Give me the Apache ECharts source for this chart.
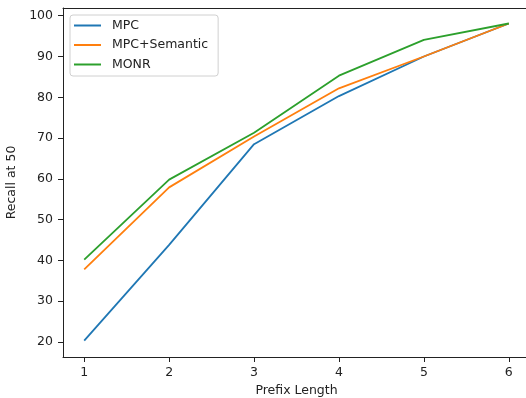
<!DOCTYPE html>
<html>
<head>
<meta charset="utf-8">
<script src="https://cdn.jsdelivr.net/npm/echarts@6/dist/echarts.min.js"></script>
<style>
  html, body { margin: 0; padding: 0; background: #fff; }
  #chart { width: 526px; height: 398px; }
</style>
</head>
<body>
<div id="chart"></div>
<script>
// prefix lengths on the x axis
const prefixLen = [1, 2, 3, 4, 5, 6]
const yTicks = [20, 30, 40, 50, 60, 70, 80, 90, 100]

const mpc = [20.3, 43.8, 68.5, 80.3, 90.0, 98.1]
const mpcSemantic = [37.8, 57.9, 70.4, 82.2, 90.0, 98.1]
const monr = [40.2, 59.8, 71.3, 85.3, 94.1, 98.1]

const font = 'DejaVu Sans'
const fs = 12.5
const ink = '#222'

function pairs(vals) {
  return prefixLen.map((x, i) => [x, vals[i]])
}

function lineSeries(name, vals, color) {
  return {
    name: name,
    type: 'line',
    data: pairs(vals),
    symbol: 'none',
    color: color,
    lineStyle: { width: 1.8, color: color },
    animation: false
  }
}

const chart = echarts.init(document.getElementById('chart'), null, { renderer: 'canvas' })

const option = {
  backgroundColor: '#fff',
  textStyle: { fontFamily: font },
  grid: {
    left: 63,
    top: 8,
    width: 467,
    height: 349,
    outerBoundsMode: 'none',
    containLabel: false,
    show: false
  },
  legend: {
    orient: 'vertical',
    left: 70,
    top: 15,
    padding: [4, 10, 5, 4],
    itemGap: 6.5,
    itemWidth: 27,
    itemHeight: 2,
    icon: 'rect',
    backgroundColor: 'rgba(255,255,255,0.8)',
    borderColor: '#d0d0d0',
    borderWidth: 1,
    borderRadius: 3,
    selectedMode: false,
    textStyle: { fontFamily: font, fontSize: fs, color: ink, padding: [0, 0, 0, 6] },
    data: ['MPC', 'MPC+Semantic', 'MONR']
  },
  xAxis: [
    {
      type: 'value',
      min: 0.75,
      max: 6.25,
      name: 'Prefix Length',
      nameLocation: 'middle',
      nameGap: 26,
      nameTextStyle: { fontFamily: font, fontSize: fs, color: ink },
      axisLine: { show: true, lineStyle: { color: ink, width: 1 } },
      axisTick: { show: true, length: 5, customValues: prefixLen, lineStyle: { color: ink } },
      axisLabel: { customValues: prefixLen, fontFamily: font, fontSize: fs, color: ink, margin: 9 },
      splitLine: { show: false }
    },
    {
      // top spine only
      type: 'value',
      position: 'top',
      min: 0.75,
      max: 6.25,
      axisLine: { show: true, lineStyle: { color: ink, width: 1 } },
      axisTick: { show: false },
      axisLabel: { show: false },
      splitLine: { show: false }
    }
  ],
  yAxis: {
    type: 'value',
    min: 16.3,
    max: 101.9,
    name: 'Recall at 50',
    nameLocation: 'middle',
    nameGap: 39,
    nameRotate: 90,
    nameTextStyle: { fontFamily: font, fontSize: fs, color: ink },
    axisLine: { show: true, lineStyle: { color: ink, width: 1 } },
    axisTick: { show: true, length: 5, customValues: yTicks, lineStyle: { color: ink } },
    axisLabel: { customValues: yTicks, fontFamily: font, fontSize: fs, color: ink, margin: 10 },
    splitLine: { show: false }
  },
  series: [
    lineSeries('MPC', mpc, '#1f77b4'),
    lineSeries('MPC+Semantic', mpcSemantic, '#ff7f0e'),
    lineSeries('MONR', monr, '#2ca02c')
  ]
}

chart.setOption(option, true)
</script>
</body>
</html>
